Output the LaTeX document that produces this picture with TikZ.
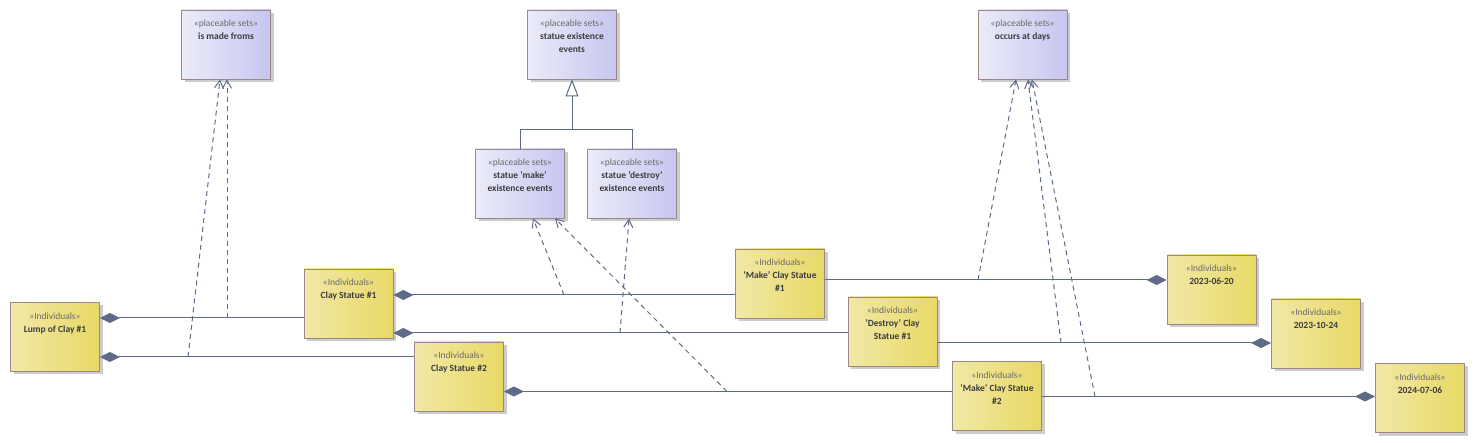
\documentclass[tikz,border=0pt]{standalone}
\usepackage{fontspec}
\setmainfont{Carlito}
\usetikzlibrary{arrows.meta,shadows,calc}
\definecolor{lc}{HTML}{5F6A88}
\definecolor{bl}{HTML}{EBEBF9}
\definecolor{br}{HTML}{C6C6F0}
\definecolor{yl}{HTML}{F1E8A6}
\definecolor{yr}{HTML}{E8D966}
\definecolor{bd}{HTML}{9C8885}
\definecolor{st}{HTML}{6A6A6A}
\definecolor{nm}{HTML}{3C3C3C}
\newcommand{\boxtext}[2]{\parbox[c][69pt][t]{88pt}{\centering\fontsize{9.5}{13}\selectfont\vspace*{10pt}{\color{st}«#1»}\\{\color{nm}\bfseries #2}\par}}
\tikzset{
 cls/.style={draw=bd, line width=0.8pt, minimum width=89pt, minimum height=69pt, inner sep=0pt,
   drop shadow={shadow xshift=3pt,shadow yshift=-3pt,fill=black!20,opacity=1}},
 pset/.style={cls, left color=bl, right color=br},
 indiv/.style={cls, left color=yl, right color=yr},
 link/.style={draw=lc, line width=1pt},
 agg/.style={link, {Diamond[length=20pt,width=10pt,fill=lc]}-},
 dep/.style={link, dash pattern=on 5pt off 4pt, -{Straight Barb[length=8pt,width=9pt]}},
 gen/.style={link, -{Triangle[open,length=17pt,width=13pt,fill=white]}},
}
\begin{document}
\begin{tikzpicture}[x=1pt,y=-1pt]
\useasboundingbox (0,0) rectangle (1475,443);
% placeable sets
\node[pset] (made) at (226,44.5) {\boxtext{placeable sets}{is made froms}};
\node[pset] (see) at (572,44.5) {\boxtext{placeable sets}{statue existence\\events}};
\node[pset] (make) at (520,183.5) {\boxtext{placeable sets}{statue 'make'\\existence events}};
\node[pset] (destroy) at (632,183.5) {\boxtext{placeable sets}{statue 'destroy'\\existence events}};
\node[pset] (occurs) at (1022.5,44.5) {\boxtext{placeable sets}{occurs at days}};
% individuals
\node[indiv] (lump) at (55,337) {\boxtext{Individuals}{Lump of Clay \#1}};
\node[indiv] (cs1) at (348.5,303.5) {\boxtext{Individuals}{Clay Statue \#1}};
\node[indiv] (cs2) at (459,376.5) {\boxtext{Individuals}{Clay Statue \#2}};
\node[indiv] (mk1) at (780,283.5) {\boxtext{Individuals}{'Make' Clay Statue\\\#1}};
\node[indiv] (ds1) at (892.5,331.5) {\boxtext{Individuals}{'Destroy' Clay\\Statue \#1}};
\node[indiv] (mk2) at (997,396) {\boxtext{Individuals}{'Make' Clay Statue\\\#2}};
\node[indiv] (d1) at (1211.5,289.5) {\boxtext{Individuals}{2023-06-20}};
\node[indiv] (d2) at (1316,333.5) {\boxtext{Individuals}{2023-10-24}};
\node[indiv] (d3) at (1420,398) {\boxtext{Individuals}{2024-07-06}};
% generalization
\draw[link] (make.north) -- ++(0,-19) -| (destroy.north);
\draw[gen] (see.south |- 0,130) -- (see.south);
% aggregations
\draw[agg] (lump.east |- 0,318) -- (cs1.west |- 0,318);
\draw[agg] (lump.east |- 0,357) -- (cs2.west |- 0,357);
\draw[agg] (cs1.east |- 0,295) -- (mk1.west |- 0,295);
\draw[agg] (cs1.east |- 0,333) -- (ds1.west |- 0,333);
\draw[agg] (cs2.east |- 0,391.5) -- (mk2.west |- 0,391.5);
\draw[agg] (d1.west |- 0,280) -- (mk1.east |- 0,280);
\draw[agg] (d2.west |- 0,343) -- (ds1.east |- 0,343);
\draw[agg] (d3.west |- 0,396.5) -- (mk2.east |- 0,396.5);
% link points on the aggregations
\coordinate (p1) at (227,318);
\coordinate (p2) at (188,357);
\coordinate (q1) at (564,295);
\coordinate (q2) at (727,391.5);
\coordinate (r1) at (620,333);
\coordinate (s1) at (978,280);
\coordinate (s2) at (1061,343);
\coordinate (s3) at (1095,396.5);
% dependencies
\draw[dep] (p1) -- (p1 |- made.south);
\draw[dep] (p2) -- ([xshift=-6pt]made.south);
\draw[dep] (q1) -- ([xshift=13pt]make.south);
\draw[dep] (q2) -- ([xshift=35pt]make.south);
\draw[dep] (r1) -- ([xshift=-3pt]destroy.south);
\draw[dep] (s1) -- ([xshift=-6.5pt]occurs.south);
\draw[dep] (s2) -- ([xshift=5.5pt]occurs.south);
\draw[dep] (s3) -- ([xshift=9.5pt]occurs.south);
\end{tikzpicture}
\end{document}
